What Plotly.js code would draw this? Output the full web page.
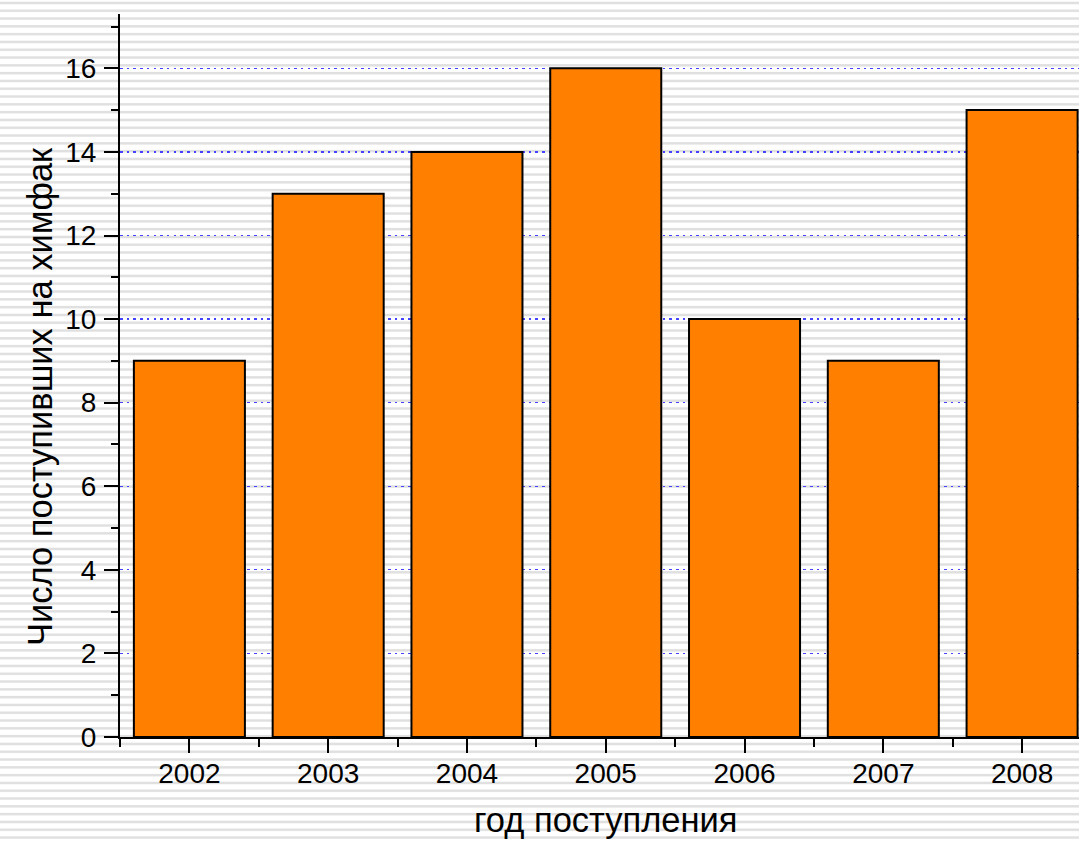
<!DOCTYPE html>
<html>
<head>
<meta charset="utf-8">
<script src="https://cdn.plot.ly/plotly-3.0.1.min.js"></script>
<style>
  html, body {
    margin: 0;
    padding: 0;
    width: 1079px;
    height: 842px;
    overflow: hidden;
    /* light horizontal stripes behind the whole figure */
    background: repeating-linear-gradient(to bottom,
      #ffffff 0px, #ffffff 1.2px,
      #e0e0e0 2.2px, #e0e0e0 3.6px,
      #ffffff 4.8px, #ffffff 7.8px);
  }
  #chart { width: 1079px; height: 842px; }
</style>
</head>
<body>
<div id="chart"></div>
<script>
// Admissions to the chemistry faculty by year
const years = [2002, 2003, 2004, 2005, 2006, 2007, 2008];
const admitted = [9, 13, 14, 16, 10, 9, 15];

const yTickVals = [0, 2, 4, 6, 8, 10, 12, 14, 16];

const xTitle = 'год поступления';
const yTitle = 'Число поступивших на химфак';

const trace = {
  type: 'bar',
  x: years,
  y: admitted,
  width: 0.8,
  marker: {
    color: '#ff8000',
    line: { color: '#000000', width: 2 }
  },
  hoverinfo: 'x+y'
};

const layout = {
  width: 1079,
  height: 842,
  margin: { l: 120, r: 0, t: 14, b: 105, pad: 0 },
  paper_bgcolor: 'rgba(0,0,0,0)',
  plot_bgcolor: 'rgba(0,0,0,0)',
  showlegend: false,
  font: { family: 'Liberation Sans, Arial, sans-serif', color: '#000000' },
  xaxis: {
    range: [2001.5, 2008.41],
    tickvals: years,
    ticktext: years.map(String),
    ticks: 'outside',
    ticklen: 14,
    tickwidth: 2,
    tickcolor: '#000000',
    tickfont: { size: 28 },
    ticklabelstandoff: -4,
    showline: true,
    linewidth: 2,
    linecolor: '#000000',
    showgrid: false,
    zeroline: false,
    minor: { tick0: 2001.5, dtick: 1, ticks: 'outside', ticklen: 8, tickwidth: 2, tickcolor: '#000000', showgrid: false }
  },
  yaxis: {
    range: [0, 17.3],
    tickvals: yTickVals,
    ticks: 'outside',
    ticklen: 14,
    tickwidth: 2,
    tickcolor: '#000000',
    tickfont: { size: 28 },
    ticklabelstandoff: 2,
    showline: true,
    linewidth: 2,
    linecolor: '#000000',
    showgrid: true,
    gridcolor: '#4444ff',
    gridwidth: 1.3,
    griddash: '2.5px,4.2px',
    zeroline: false,
    minor: { dtick: 1, ticks: 'outside', ticklen: 7, tickwidth: 2, tickcolor: '#000000', showgrid: false }
  },
  // axis titles as annotations so they can sit slightly off-centre
  annotations: [
    {
      text: xTitle, xref: 'paper', yref: 'paper',
      x: (606 - 120) / 959, y: -(820 - 737) / 723,
      xanchor: 'center', yanchor: 'middle',
      showarrow: false, font: { size: 34.5 }
    },
    {
      text: yTitle, xref: 'paper', yref: 'paper',
      x: (40 - 120) / 959, y: (737 - 397) / 723,
      xanchor: 'center', yanchor: 'middle', textangle: -90,
      showarrow: false, font: { size: 34.5 }
    }
  ]
};

Plotly.newPlot('chart', [trace], layout, { staticPlot: true, displayModeBar: false });
</script>
</body>
</html>
